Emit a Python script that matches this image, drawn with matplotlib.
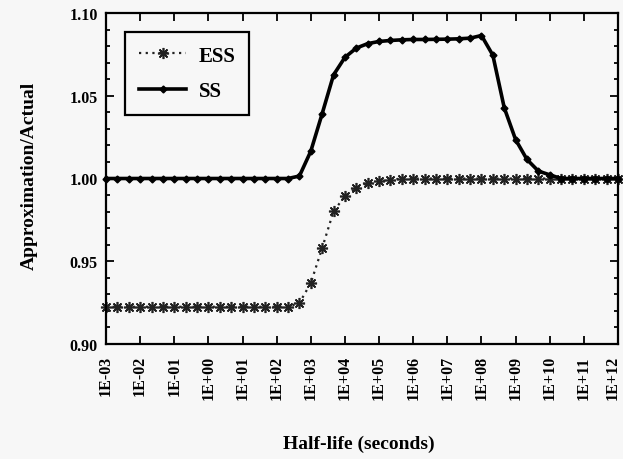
import numpy as np
import matplotlib
matplotlib.use("Agg")
import matplotlib.pyplot as plt
from matplotlib.ticker import FixedLocator, FixedFormatter, MultipleLocator, NullLocator
from matplotlib.transforms import ScaledTranslation

# ---- data ----
log_half_life = np.arange(-9, 37) / 3.0          # sampling grid: 1E-03 .. 1E+12, 3 points per decade
half_life = 10.0 ** log_half_life

ss = [1.000, 1.000, 1.000, 1.000, 1.000, 1.000, 1.000, 1.000, 1.000,
      1.000, 1.000, 1.000, 1.000, 1.000, 1.000, 1.000, 1.000,
      1.0015, 1.0165, 1.0392, 1.0626, 1.0732, 1.0788, 1.0815, 1.0828,
      1.0834, 1.0838, 1.0840, 1.0840, 1.0841, 1.0842, 1.0844, 1.0848,
      1.0864, 1.0745, 1.0428, 1.0235, 1.0115, 1.0045, 1.0022,
      1.000, 1.000, 1.000, 1.000, 1.000, 1.000]

ess = [0.9225, 0.9225, 0.9225, 0.9225, 0.9225, 0.9225, 0.9225, 0.9225, 0.9225,
       0.9225, 0.9225, 0.9225, 0.9225, 0.9225, 0.9225, 0.9225, 0.9225,
       0.9248, 0.9368, 0.9580, 0.9802, 0.9893, 0.9944, 0.9974, 0.9984, 0.9992,
       1.000, 1.000, 1.000, 1.000, 1.000, 1.000, 1.000, 1.000, 1.000, 1.000,
       1.000, 1.000, 1.000, 1.000, 1.000, 1.000, 1.000, 1.000, 1.000, 1.000]

x_tick_exponents = [-3, -2, -1, 0, 1, 2, 3, 4, 5, 6, 7, 8, 9, 10, 11, 12]
x_tick_labels = ["1E-03", "1E-02", "1E-01", "1E+00", "1E+01", "1E+02", "1E+03",
                 "1E+04", "1E+05", "1E+06", "1E+07", "1E+08", "1E+09", "1E+10",
                 "1E+11", "1E+12"]
y_ticks = [0.90, 0.95, 1.00, 1.05, 1.10]
y_tick_labels = ["0.90", "0.95", "1.00", "1.05", "1.10"]

# ---- figure ----
plt.rcParams["font.family"] = ["Liberation Serif", "DejaVu Serif"]
bg = "#f7f7f7"
fig = plt.figure(figsize=(6.23, 4.60), dpi=100, facecolor=bg)
W, H = 623, 460
L, R, T, B = 106, 618, 14, 345
ax = fig.add_axes([L / W, 1 - B / H, (R - L) / W, (B - T) / H], facecolor=bg)

ax.plot(half_life, ess, linestyle=(0, (1, 2)), linewidth=1.6, color="#222222",
        marker=(8, 2, 0), markersize=8, markeredgewidth=1.2, label="ESS",
        clip_on=False, zorder=2)
ax.plot(half_life, ss, linestyle="-", linewidth=2.6, color="black",
        marker="D", markersize=3.5, label="SS", clip_on=False, zorder=3)

ax.set_xscale("log")
ax.set_xlim(1e-3, 1e12)
ax.set_ylim(0.90, 1.10)

ax.xaxis.set_major_locator(FixedLocator([10.0 ** e for e in x_tick_exponents]))
ax.xaxis.set_major_formatter(FixedFormatter(x_tick_labels))
ax.xaxis.set_minor_locator(NullLocator())
ax.yaxis.set_major_locator(FixedLocator(y_ticks))
ax.yaxis.set_major_formatter(FixedFormatter(y_tick_labels))
ax.yaxis.set_minor_locator(MultipleLocator(0.01))

ax.tick_params(axis="both", which="both", direction="in", top=True, right=True,
               color="black", width=1.3)
ax.tick_params(axis="both", which="major", length=6)
ax.tick_params(axis="y", which="minor", length=3)
ax.tick_params(axis="x", which="major", labelsize=11.5, labelrotation=90, pad=8)
ax.tick_params(axis="y", which="major", labelsize=11.5, pad=6)

for s in ax.spines.values():
    s.set_linewidth(1.6)
    s.set_color("black")

ax.set_xlabel("Half-life (seconds)", fontsize=14, fontweight="bold", va="center")
ax.set_ylabel("Approximation/Actual", fontsize=14, fontweight="bold")
ax.xaxis.set_label_coords((359 - L) / (R - L), (B - 444) / (B - T))
ax.yaxis.set_label_coords((38 - L) / (R - L), 0.51)

leg = ax.legend(loc="upper left", bbox_to_anchor=((125 - L) / (R - L), (B - 33) / (B - T)),
                borderaxespad=0, fancybox=False, framealpha=1, facecolor=bg,
                edgecolor="black", prop={"size": 15, "weight": "bold"},
                handlelength=2.3, labelspacing=0.75, borderpad=0.65, handletextpad=0.6)
leg.get_frame().set_linewidth(1.6)

fig.canvas.draw()
xlabels = ax.get_xticklabels()
for lbl in xlabels + ax.get_yticklabels():
    lbl.set_fontweight("bold")
xlabels[-1].set_transform(xlabels[-1].get_transform()
                          + ScaledTranslation(-5 / 100, 0, fig.dpi_scale_trans))

fig.savefig("out.png", dpi=100, facecolor=bg)
